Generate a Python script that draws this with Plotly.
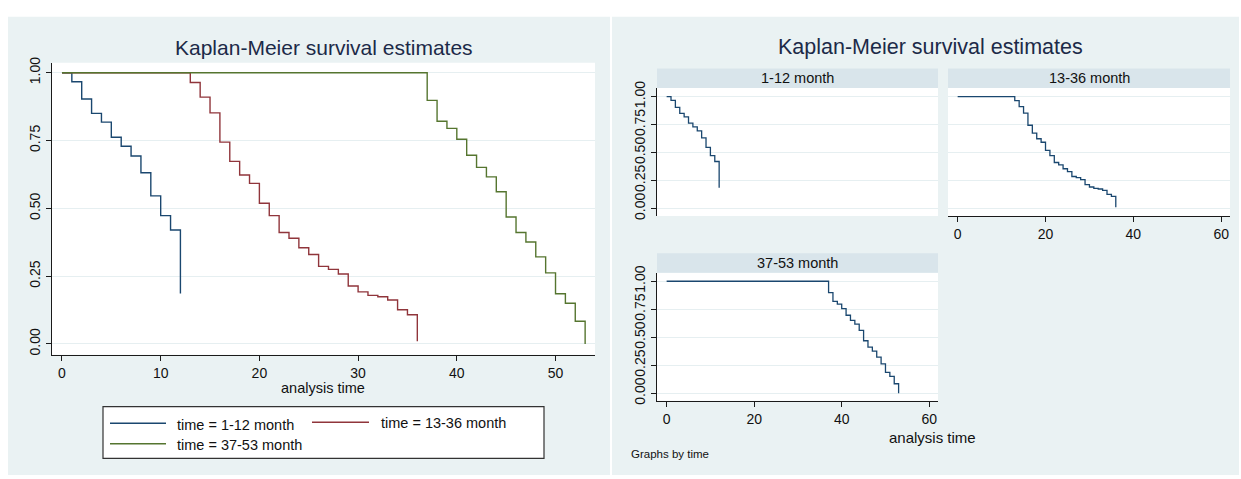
import plotly.graph_objects as go

W, H = 1241, 479

# ---------------- data ----------------
blue_t = [0, 1, 2, 3, 4, 5, 6, 7, 8, 9, 10, 11, 12]
blue_s = [1.0, 0.967, 0.903, 0.850, 0.818, 0.762, 0.729, 0.693, 0.631, 0.546, 0.473, 0.420, 0.186]

red_t = [0, 13, 14, 15, 16, 17, 18, 19, 20, 21, 22, 23, 24, 25, 26, 27, 28, 29, 30, 31, 32, 33, 34, 35, 36]
red_s = [1.0, 0.964, 0.910, 0.852, 0.744, 0.673, 0.623, 0.592, 0.519, 0.473, 0.411, 0.390, 0.355,
         0.330, 0.286, 0.275, 0.258, 0.214, 0.192, 0.179, 0.174, 0.162, 0.126, 0.108, 0.010]

green_t = [0, 37, 38, 39, 40, 41, 42, 43, 44, 45, 46, 47, 48, 49, 50, 51, 52, 53]
green_s = [1.0, 0.898, 0.821, 0.795, 0.755, 0.696, 0.651, 0.616, 0.561, 0.468, 0.411, 0.376,
           0.321, 0.262, 0.185, 0.150, 0.084, 0.0]

group_names = ["1-12 month", "13-36 month", "37-53 month"]
legend_labels = ["time = 1-12 month", "time = 13-36 month", "time = 37-53 month"]

y_ticks = [0, 0.25, 0.5, 0.75, 1.0]
y_tick_text = ["0.00", "0.25", "0.50", "0.75", "1.00"]
x_ticks_main = [0, 10, 20, 30, 40, 50]
x_ticks_panel = [0, 20, 40, 60]

# ---------------- styles ----------------
NAVY = "#1a476f"
MAROON = "#90353b"
FOREST = "#55752f"
BG = "#eaf2f3"
STRIP = "#d9e5eb"
GRID = "#e6eff1"
AXIS = "#1a1a1a"
TITLE_C = "#1c2a48"
FONT = "Liberation Sans, Arial, sans-serif"


def px(x):
    return x / W


def py(y):
    return 1 - y / H


fig = go.Figure()

# main plot
for t, s, c, name in [(blue_t, blue_s, NAVY, legend_labels[0]),
                      (red_t, red_s, MAROON, legend_labels[1]),
                      (green_t, green_s, FOREST, legend_labels[2])]:
    fig.add_trace(go.Scatter(x=t, y=s, mode="lines", line=dict(color=c, width=1.4, shape="hv"),
                             name=name, xaxis="x", yaxis="y", showlegend=False, hoverinfo="skip"))

# panels
for t, s, xa, ya in [(blue_t, blue_s, "x2", "y2"),
                     (red_t, red_s, "x3", "y3"),
                     (green_t, green_s, "x4", "y4")]:
    fig.add_trace(go.Scatter(x=t, y=s, mode="lines", line=dict(color=NAVY, width=1.3, shape="hv"),
                             xaxis=xa, yaxis=ya, showlegend=False, hoverinfo="skip"))

tickfont = dict(family=FONT, size=14, color="#111111")

common_y = dict(tickvals=y_ticks, ticktext=y_tick_text, tickangle=-90, showgrid=True,
                gridcolor=GRID, gridwidth=1, zeroline=False, tickfont=tickfont,
                linecolor=AXIS, linewidth=1, tickcolor=AXIS, ticklen=5, tickwidth=1)
common_x = dict(showgrid=False, zeroline=False, tickfont=tickfont, linecolor=AXIS, linewidth=1,
                tickcolor=AXIS, ticklen=5, tickwidth=1)

panel_xrange = [-2.2, 62.0]
panel_yrange = [-0.068, 1.076]

fig.update_layout(
    width=W, height=H,
    margin=dict(l=0, r=0, t=0, b=0),
    paper_bgcolor="white",
    plot_bgcolor="rgba(0,0,0,0)",
    font=dict(family=FONT, color="#111111"),
    xaxis=dict(domain=[px(52), px(595)], range=[-1.01, 54.0], tickvals=x_ticks_main,
               ticks="outside", showline=True, anchor="y", **common_x),
    yaxis=dict(domain=[py(356), py(57)], range=[-0.04, 1.037], ticks="outside", showline=True,
               anchor="x", **common_y),
    xaxis2=dict(domain=[px(657), px(938)], range=panel_xrange, showticklabels=False, ticks="",
                showline=False, anchor="y2", **common_x),
    yaxis2=dict(domain=[py(214), py(83)], range=panel_yrange, ticks="outside", showline=True,
                anchor="x2", **common_y),
    xaxis3=dict(domain=[px(948), px(1230)], range=panel_xrange, tickvals=x_ticks_panel,
                ticks="outside", showline=True, anchor="y3", **common_x),
    yaxis3=dict(domain=[py(214), py(83)], range=panel_yrange, ticks="", showline=False,
                showticklabels=False, anchor="x3",
                **{k: v for k, v in common_y.items() if k not in ("ticklen",)}),
    xaxis4=dict(domain=[px(657), px(938)], range=panel_xrange, tickvals=x_ticks_panel,
                ticks="outside", showline=True, anchor="y4", **common_x),
    yaxis4=dict(domain=[py(403), py(272)], range=panel_yrange, ticks="outside", showline=True,
                anchor="x4", **common_y),
)

shapes = []
# background regions
shapes.append(dict(type="rect", xref="paper", yref="paper", x0=px(8), x1=px(610), y0=py(479), y1=py(10),
                   fillcolor=BG, line=dict(width=0), layer="below"))
shapes.append(dict(type="rect", xref="paper", yref="paper", x0=px(612), x1=px(1239), y0=py(479), y1=py(10),
                   fillcolor=BG, line=dict(width=0), layer="below"))
# white plot regions
for x0, x1, y0, y1 in [(52, 595, 57, 356), (657, 938, 83, 214), (948, 1230, 83, 214), (657, 938, 272, 403)]:
    shapes.append(dict(type="rect", xref="paper", yref="paper", x0=px(x0), x1=px(x1), y0=py(y1), y1=py(y0),
                       fillcolor="white", line=dict(width=0), layer="below"))
# strips
for x0, x1, y0, y1 in [(657, 938, 63, 83), (948, 1230, 63, 83), (657, 938, 252, 272)]:
    shapes.append(dict(type="rect", xref="paper", yref="paper", x0=px(x0), x1=px(x1), y0=py(y1), y1=py(y0),
                       fillcolor=STRIP, line=dict(width=0), layer="below"))
# legend box
shapes.append(dict(type="rect", xref="paper", yref="paper", x0=px(103), x1=px(544), y0=py(462), y1=py(409),
                   fillcolor="white", line=dict(color="#333333", width=1.2)))
for (x0, x1, yy), c in zip([(110, 166, 426), (312, 369, 425), (110, 166, 447)], [NAVY, MAROON, FOREST]):
    shapes.append(dict(type="line", xref="paper", yref="paper", x0=px(x0), x1=px(x1), y0=py(yy), y1=py(yy),
                       line=dict(color=c, width=1.4)))
fig.update_layout(shapes=shapes)

ann = []
ann.append(dict(text="Kaplan-Meier survival estimates", x=px(324), y=py(41), xref="paper", yref="paper",
                showarrow=False, font=dict(size=21, color=TITLE_C, family=FONT), xanchor="center", yanchor="middle"))
ann.append(dict(text="Kaplan-Meier survival estimates", x=px(930), y=py(41), xref="paper", yref="paper",
                showarrow=False, font=dict(size=21.5, color=TITLE_C, family=FONT), xanchor="center", yanchor="middle"))
ann.append(dict(text="analysis time", x=px(323), y=py(390), xref="paper", yref="paper", showarrow=False,
                font=dict(size=14.5, color="#111111", family=FONT), xanchor="center", yanchor="middle"))
ann.append(dict(text="analysis time", x=px(932), y=py(441), xref="paper", yref="paper", showarrow=False,
                font=dict(size=15, color="#111111", family=FONT), xanchor="center", yanchor="middle"))
ann.append(dict(text="Graphs by time", x=px(629), y=py(458), xref="paper", yref="paper", showarrow=False,
                font=dict(size=11.5, color="#111111", family=FONT), xanchor="left", yanchor="middle"))
for name, (cx, cy) in zip(group_names, [(797, 73), (1089, 73), (797, 262)]):
    ann.append(dict(text=name, x=px(cx), y=py(cy), xref="paper", yref="paper", showarrow=False,
                    font=dict(size=14.5, color="#111111", family=FONT), xanchor="center", yanchor="middle"))
for lab, (lx, ly) in zip(legend_labels, [(175, 428), (379, 426), (175, 448)]):
    ann.append(dict(text=lab, x=px(lx), y=py(ly), xref="paper", yref="paper", showarrow=False,
                    font=dict(size=14.5, color="#111111", family=FONT), xanchor="left", yanchor="middle"))
fig.update_layout(annotations=ann)

fig.write_html(
    "out.html",
    config={"displayModeBar": False},
    post_script="document.body.style.margin='0';document.body.style.overflow='hidden';",
)
